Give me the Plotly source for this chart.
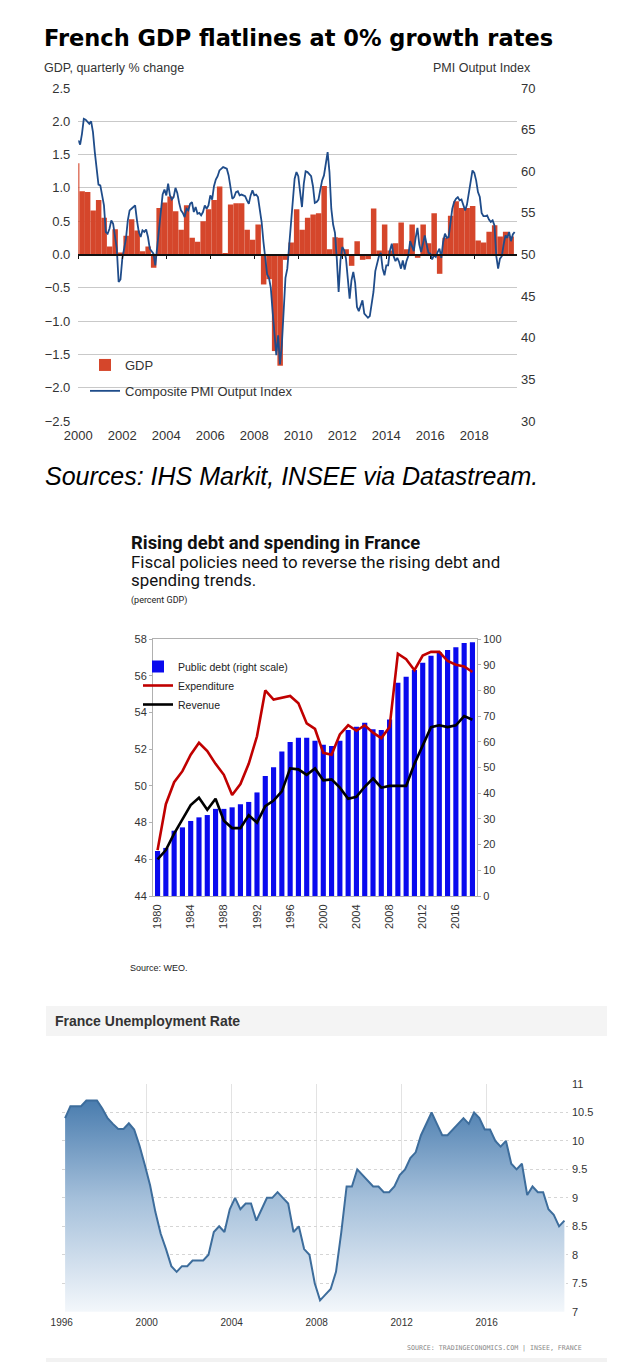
import plotly.graph_objects as go

# The page body has an 8px margin, so the figure is drawn 8px in from the window edge.
PAGE_OFF = 8
W, H = 640 - PAGE_OFF, 1371 - PAGE_OFF
def px(x): return (x - PAGE_OFF) / W
def py(y): return 1 - (y - PAGE_OFF) / H

# ---------------- Chart 1: French GDP vs PMI ----------------
gdp_first_quarter = 1999.75          # 1999 Q4 (only a sliver visible)
gdp_qoq = [
    1.37,                              # 1999 Q4
    0.95, 0.94, 0.66, 0.82,            # 2000
    0.55, 0.12, 0.38, 0.03,            # 2001
    0.28, 0.53, 0.36, 0.05,            # 2002
    0.12, -0.20, 0.70, 0.78,           # 2003
    0.87, 0.65, 0.37, 0.74,            # 2004
    0.25, 0.19, 0.50, 0.68,            # 2005
    0.82, 1.02, 0.01, 0.75,            # 2006
    0.77, 0.77, 0.37, 0.22,            # 2007
    0.45, -0.45, -0.37, -1.45,         # 2008
    -1.67, -0.08, 0.18, 0.68,          # 2009
    0.37, 0.55, 0.60, 0.62,            # 2010
    1.03, 0.08, 0.26, 0.25,            # 2011
    0.08, -0.17, 0.20, -0.08,          # 2012
    -0.07, 0.69, 0.06, 0.45,           # 2013
    0.06, 0.17, 0.48, 0.08,            # 2014
    0.45, -0.05, 0.45, 0.17,           # 2015
    0.62, -0.29, 0.25, 0.58,           # 2016
    0.80, 0.70, 0.70, 0.73,            # 2017
    0.21, 0.18, 0.34, 0.44,            # 2018
    0.27, 0.34, 0.27,                  # 2019
]
pmi_first_year = 2000
pmi_monthly = [
    63.7, 63.2, 64.5, 66.3, 66.2, 66.0, 65.7, 66.0, 64.7, 62.3, 60.3, 58.4,  # 2000
    58.3, 57.3, 55.9, 52.7, 52.5, 53.1, 54.1, 53.7, 52.3, 50.7, 46.7, 47.0,  # 2001
    49.5, 50.8, 51.9, 54.1, 55.3, 55.5, 55.7, 55.9, 54.1, 52.7, 52.1, 52.9,  # 2002
    52.7, 53.0, 52.1, 50.7, 50.4, 50.1, 48.7, 51.0, 53.0, 54.8, 57.2, 57.8,  # 2003
    57.1, 58.5, 57.1, 56.6, 56.9, 58.0, 57.4, 56.2, 55.3, 55.0, 54.5, 55.5,  # 2004
    55.3, 56.1, 56.3, 55.1, 55.7, 54.9, 55.0, 54.7, 55.1, 55.9, 55.5, 55.9,  # 2005
    57.1, 56.6, 58.2, 59.0, 59.4, 60.1, 60.3, 60.5, 60.4, 60.3, 59.5, 57.9,  # 2006
    56.7, 56.9, 57.5, 57.6, 57.1, 57.2, 57.1, 57.0, 56.5, 56.1, 57.1, 57.7,  # 2007
    57.1, 57.2, 56.9, 55.5, 53.9, 51.5, 49.2, 47.6, 47.2, 46.0, 43.1, 40.7,  # 2008
    37.9, 40.3, 36.8, 39.1, 43.5, 47.2, 48.3, 51.1, 53.9, 56.3, 59.1, 59.9,  # 2009
    59.4, 57.5, 55.7, 58.5, 60.0, 59.9, 59.7, 59.4, 58.2, 56.2, 56.3, 56.6,  # 2010
    57.8, 58.9, 59.5, 60.8, 62.3, 59.9, 55.5, 53.6, 52.6, 49.5, 45.5, 49.3,  # 2011
    50.9, 50.5, 49.5, 47.1, 44.7, 46.9, 47.9, 46.6, 43.7, 43.2, 43.8, 44.5,  # 2012
    42.9, 42.7, 42.4, 42.6, 44.3, 45.5, 48.0, 49.1, 49.8, 50.2, 48.3, 47.5,  # 2013
    48.7, 48.7, 50.5, 51.3, 49.8, 49.2, 49.6, 49.1, 48.3, 49.3, 48.2, 49.2,  # 2014
    49.8, 51.6, 50.9, 50.4, 52.0, 53.2, 51.2, 50.3, 51.3, 52.3, 51.2, 50.2,  # 2015
    50.1, 49.4, 49.9, 49.7, 50.3, 50.7, 49.6, 51.5, 52.5, 52.0, 52.1, 53.8,  # 2016
    55.5, 56.3, 56.7, 56.9, 56.5, 56.6, 55.9, 55.3, 56.0, 57.3, 58.5, 60.1,  # 2017
    59.8, 58.9, 57.5, 56.9, 55.0, 54.6, 54.6, 54.7, 54.2, 53.9, 54.1, 53.5,  # 2018
    49.8, 48.3, 49.5, 49.8, 51.2, 52.3, 52.0, 52.7, 51.6, 52.4, 52.7,        # 2019
]
c1_year_ticks = list(range(2000, 2019, 2))
c1_gdp_ticks = [-2.5, -2.0, -1.5, -1.0, -0.5, 0.0, 0.5, 1.0, 1.5, 2.0, 2.5]
c1_pmi_ticks = [30, 35, 40, 45, 50, 55, 60, 65, 70]

# ---------------- Chart 2: debt & spending ----------------
c2_years = list(range(1980, 2019))
public_debt = [17.5, 18.7, 25.4, 26.7, 29.2, 30.6, 31.5, 33.9, 33.9, 34.5,
               35.7, 36.6, 40.3, 46.7, 50.1, 56.2, 59.9, 61.6, 61.6, 60.4,
               58.9, 58.4, 60.4, 64.6, 65.9, 67.4, 64.9, 64.6, 68.7, 83.0,
               85.3, 87.9, 90.8, 93.5, 94.8, 95.7, 96.8, 98.4, 98.7]
expenditure = [46.5, 49.0, 50.2, 50.8, 51.7, 52.35, 51.9, 51.2, 50.6, 49.5,
               50.1, 51.2, 52.7, 55.2, 54.7, 54.8, 54.9, 54.5, 53.4, 53.1,
               51.8, 51.7, 52.8, 53.3, 53.0, 53.3, 52.9, 52.6, 53.2, 57.2,
               56.9, 56.3, 57.1, 57.3, 57.3, 56.8, 56.6, 56.5, 56.2]
revenue = [46.0, 46.5, 47.4, 48.2, 48.95, 49.35, 48.7, 49.3, 48.1, 47.7,
           47.7, 48.4, 48.0, 48.9, 49.2, 49.7, 50.95, 50.9, 50.6, 50.95,
           50.3, 50.35, 49.9, 49.3, 49.4, 49.95, 50.4, 49.9, 50.0, 50.0,
           50.0, 51.2, 52.2, 53.2, 53.3, 53.2, 53.3, 53.8, 53.6]
c2_year_ticks = list(range(1980, 2017, 4))

# ---------------- Chart 3: unemployment ----------------
unemp_first_year = 1996
unemployment = [
    10.40, 10.61, 10.61, 10.61,   # 1996
    10.71, 10.71, 10.71, 10.57,   # 1997
    10.40, 10.30, 10.21, 10.21,   # 1998
    10.31, 10.20, 9.92, 9.58,     # 1999
    9.22, 8.75, 8.37, 8.10,       # 2000
    7.80, 7.70, 7.80, 7.80,       # 2001
    7.90, 7.90, 7.90, 8.00,       # 2002
    8.40, 8.50, 8.40, 8.80,       # 2003
    9.00, 8.80, 8.90, 8.90,       # 2004
    8.60, 8.80, 9.00, 9.00,       # 2005
    9.10, 9.00, 8.90, 8.40,       # 2006
    8.50, 8.10, 8.00, 7.50,       # 2007
    7.20, 7.30, 7.40, 7.70,       # 2008
    8.40, 9.20, 9.20, 9.50,       # 2009
    9.40, 9.30, 9.20, 9.20,       # 2010
    9.10, 9.10, 9.20, 9.40,       # 2011
    9.50, 9.70, 9.80, 10.10,      # 2012
    10.30, 10.50, 10.30, 10.10,   # 2013
    10.10, 10.20, 10.30, 10.40,   # 2014
    10.30, 10.50, 10.40, 10.20,   # 2015
    10.20, 10.00, 9.90, 10.00,    # 2016
    9.60, 9.50, 9.60, 9.05,       # 2017
    9.20, 9.10, 9.10, 8.80,       # 2018
    8.70, 8.50, 8.60,             # 2019
]
c3_year_ticks = list(range(1996, 2017, 4))
c3_rate_ticks = [7, 7.5, 8, 8.5, 9, 9.5, 10, 10.5, 11]
c3_rate_labels = ["7", "7.5", "8", "8.5", "9", "9.5", "10", "10.5", "11"]

# ---------------- build figure ----------------
fig = go.Figure()
ARIAL = "Liberation Sans, Arial, sans-serif"

gdp_x = [gdp_first_quarter + 0.25 * i + 0.125 + 0.05 for i in range(len(gdp_qoq))]
fig.add_trace(go.Bar(
    x=gdp_x, y=gdp_qoq, width=0.25, name="GDP",
    marker=dict(color="#D5462B", line=dict(width=0)),
    xaxis="x", yaxis="y", legend="legend", legendgroup="g1"))
pmi_x = [pmi_first_year + i / 12 for i in range(len(pmi_monthly))]
fig.add_trace(go.Scatter(
    x=pmi_x, y=pmi_monthly, mode="lines", name="Composite PMI Output Index",
    line=dict(color="#1F4C8A", width=1.8),
    xaxis="x2", yaxis="y2", legend="legend", legendgroup="g2"))

fig.add_trace(go.Bar(
    x=c2_years, y=public_debt, width=0.62, name="Public debt (right scale)",
    marker=dict(color="#0A0AEE", line=dict(width=0)),
    xaxis="x3", yaxis="y3", legend="legend2", legendgroup="d1"))
fig.add_trace(go.Scatter(
    x=c2_years, y=expenditure, mode="lines", name="Expenditure",
    line=dict(color="#C00000", width=2.6),
    xaxis="x3", yaxis="y4", legend="legend2", legendgroup="d2"))
fig.add_trace(go.Scatter(
    x=c2_years, y=revenue, mode="lines", name="Revenue",
    line=dict(color="#000000", width=2.6),
    xaxis="x3", yaxis="y4", legend="legend2", legendgroup="d3"))

unemp_x = [unemp_first_year + 0.16 + 0.25 * i for i in range(len(unemployment))]
fig.add_trace(go.Scatter(
    x=unemp_x, y=unemployment, mode="lines", showlegend=False,
    line=dict(color="#3D6D9C", width=2),
    fill="tozeroy",
    fillgradient=dict(type="vertical", start=7, stop=11,
                      colorscale=[[0, "#F3F7FB"], [0.5, "#A4BFDA"], [1, "#3A71A7"]]),
    xaxis="x4", yaxis="y5"))

# chart 1 geometry
c1_left, c1_right, c1_top, c1_bot = 78.3, 517, 88, 421
c1_xrange = [2000, 2000 + (c1_right - c1_left) / 22.0]
c1_ydom = [py(c1_bot), py(c1_top)]
zero_pos = c1_ydom[0] + (0 - (-2.5)) / 5.0 * (c1_ydom[1] - c1_ydom[0])
tick1 = dict(size=13, color="#333333", family=ARIAL)

def note(text, x, y, size, color="#222222", anchor="left", family=None):
    f = dict(size=size, color=color)
    if family:
        f["family"] = family
    return dict(text=text, x=px(x), y=py(y), xref="paper", yref="paper",
                xanchor=anchor, yanchor="middle", showarrow=False, font=f)

layout = dict(
    template="none",
    width=W, height=H, autosize=False,
    margin=dict(l=0, r=0, t=0, b=0, pad=0),
    paper_bgcolor="white", plot_bgcolor="rgba(0,0,0,0)",
    font=dict(family=ARIAL, color="#333333"),
    xaxis=dict(domain=[px(c1_left), px(c1_right)], range=c1_xrange, anchor="y",
               tickvals=c1_year_ticks, showgrid=False, zeroline=False, showline=False,
               ticks="", tickfont=tick1, ticklabelstandoff=5, automargin=False),
    xaxis2=dict(overlaying="x", range=c1_xrange, anchor="free", position=zero_pos,
                tickvals=c1_year_ticks, showticklabels=False, showgrid=False,
                zeroline=False, showline=True, linecolor="#111111", linewidth=1.6,
                ticks="outside", ticklen=4, tickcolor="#111111", tickwidth=1,
                automargin=False),
    yaxis=dict(domain=c1_ydom, range=[-2.5, 2.5], anchor="x", tickvals=c1_gdp_ticks,
               tickformat=".1f", showgrid=True, gridcolor="#C9C9C9", gridwidth=1.3,
               zeroline=False, showline=False, ticks="", tickfont=tick1,
               ticklabelstandoff=7, automargin=False),
    yaxis2=dict(overlaying="y", side="right", anchor="x", range=[30, 70],
                tickvals=c1_pmi_ticks, showgrid=False, zeroline=False, showline=False,
                ticks="", tickfont=tick1, ticklabelstandoff=3, automargin=False),
    # chart 2
    xaxis3=dict(domain=[px(153), px(477)], range=[1979.45, 2018.55], anchor="y3",
                tickvals=c2_year_ticks, tickangle=-90, showgrid=False, zeroline=False,
                showline=True, linecolor="#B0B0B0", mirror=True, ticks="",
                tickfont=dict(size=11, color="#333333"), ticklabelstandoff=3,
                automargin=False),
    yaxis3=dict(domain=[py(896), py(639)], range=[0, 100], side="right", anchor="x3",
                dtick=10, showgrid=False, zeroline=False, showline=True,
                linecolor="#B0B0B0", ticks="outside", ticklen=3, tickcolor="#B0B0B0",
                tickfont=dict(size=11, color="#333333"), automargin=False),
    yaxis4=dict(overlaying="y3", side="left", anchor="x3", range=[44, 58], dtick=2,
                showgrid=False, zeroline=False, showline=True, linecolor="#B0B0B0",
                ticks="outside", ticklen=3, tickcolor="#B0B0B0",
                tickfont=dict(size=11, color="#333333"), automargin=False),
    # chart 3
    xaxis4=dict(domain=[px(61.7), px(568)], range=[1996, 2019.83], anchor="y5",
                tickvals=c3_year_ticks, showgrid=True, gridcolor="#E3E3E3",
                zeroline=False, showline=False, ticks="",
                tickfont=dict(size=10, color="#333333"), ticklabelstandoff=3,
                automargin=False),
    yaxis5=dict(domain=[py(1311.7), py(1084)], range=[7, 11], side="right", anchor="x4",
                tickvals=c3_rate_ticks, ticktext=c3_rate_labels, showgrid=True,
                gridcolor="#D5D5D5", griddash="dot", zeroline=False, showline=False,
                ticks="", tickfont=dict(size=11, color="#333333"), ticklabelstandoff=3,
                automargin=False),
    legend=dict(x=px(85), y=py(350), xanchor="left", yanchor="top",
                bgcolor="rgba(0,0,0,0)", font=dict(size=13, color="#333333"),
                traceorder="grouped", tracegroupgap=6),
    legend2=dict(x=px(138), y=py(652), xanchor="left", yanchor="top",
                 bgcolor="rgba(0,0,0,0)", font=dict(size=10.5, color="#222222"),
                 traceorder="grouped", tracegroupgap=0),
    shapes=[
        dict(type="rect", xref="paper", yref="paper", x0=px(46), x1=px(607),
             y0=py(1036), y1=py(1006), fillcolor="#F4F4F4", line=dict(width=0), layer="below"),
        dict(type="rect", xref="paper", yref="paper", x0=px(46), x1=px(607),
             y0=py(1362), y1=py(1358), fillcolor="#F2F2F2", line=dict(width=0), layer="below"),
    ],
    annotations=[
        note("<b>French GDP flatlines at 0% growth rates</b>", 42, 38, 22.5, "#000000",
             family="DejaVu Sans"),
        note("GDP, quarterly % change", 42, 68, 12.5, "#333333"),
        note("PMI Output Index", 533, 68, 12.5, "#333333", anchor="right"),
        note("<i>Sources: IHS Markit, INSEE via Datastream.</i>", 43, 476, 25, "#000000"),
        note("<b>Rising debt and spending in France</b>", 129, 542, 18.4, "#111111", family="Roboto"),
        note("Fiscal policies need to reverse the rising debt and", 129, 562, 16.9, "#111111", family="Roboto"),
        note("spending trends.", 129, 580, 16.9, "#111111", family="Roboto"),
        note("(percent GDP)", 129, 600, 9, "#222222", family="Roboto"),
        note("Source: WEO.", 128, 968, 9, "#222222"),
        note("<b>France Unemployment Rate</b>", 53, 1021, 14, "#333333"),
        note("SOURCE: TRADINGECONOMICS.COM | INSEE, FRANCE", 584, 1348, 6.6, "#888888",
             anchor="right", family="DejaVu Sans Mono"),
    ],
)
fig.update_layout(**layout)
fig.write_html("out.html")
